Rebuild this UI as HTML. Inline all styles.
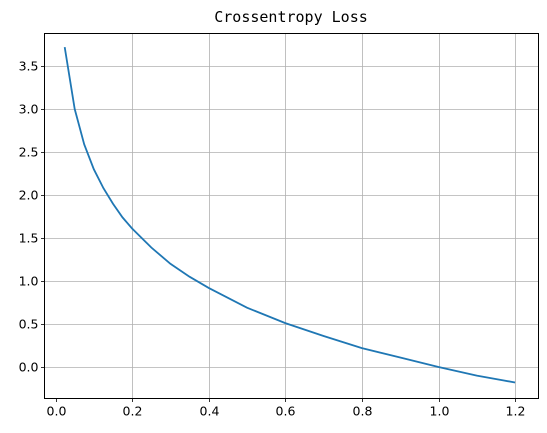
<!DOCTYPE html>
<html><head><meta charset="utf-8"><style>
body{margin:0;background:#fff;}
svg{display:block;}
text{font-family:"DejaVu Sans","Liberation Sans",sans-serif;font-size:12.5px;fill:#000;}
</style></head><body>
<svg id="chart" width="547" height="433">
<text x="291" y="22" text-anchor="middle" style="font-family:'DejaVu Sans Mono','Liberation Mono',monospace;font-size:15px">Crossentropy Loss</text>
<g id="grid"></g><g id="ticks"></g>
<path id="line" fill="none" stroke="#1f77b4" stroke-width="1.8"/>
<rect x="44.5" y="33.5" width="494" height="365" fill="none" stroke="#000" stroke-width="1"/>
</svg>
<script>
const xValues=[0.024,0.05,0.075,0.1,0.125,0.15,0.175,0.2,0.25,0.3,0.35,0.4,0.5,0.6,0.7,0.8,0.9,1.0,1.1,1.2];
const yValues=[3.72,3.00,2.59,2.30,2.08,1.90,1.74,1.61,1.39,1.20,1.05,0.92,0.69,0.51,0.36,0.22,0.11,0.0,-0.10,-0.18];
const xTicks=[0.2,0.4,0.6,0.8,1.0,1.2];
const yTicks=[0.0,0.5,1.0,1.5,2.0,2.5,3.0,3.5];
const xTickLabels=["0.2","0.4","0.6","0.8","1.0","1.2"];
const yTickLabels=["0.0","0.5","1.0","1.5","2.0","2.5","3.0","3.5"];
const L=44.5,R=538.5,T=33.5,B=398.5;
function sx(v){return 55.5+v*383.0;}
function sy(v){return 367-v*86;}
const ns="http://www.w3.org/2000/svg";
const grid=document.getElementById('grid'),ticks=document.getElementById('ticks');
function mk(tag,attrs,parent){const e=document.createElementNS(ns,tag);for(const k in attrs)e.setAttribute(k,attrs[k]);parent.appendChild(e);return e;}
xTicks.forEach((v,i)=>{const x=Math.round(sx(v))+0.5;
 const g=mk('line',{x1:x,x2:x,y1:T,y2:B,stroke:'#b0b0b0','stroke-width':0.8},grid);
 
 
 const t=mk('line',{x1:x,x2:x,y1:B,y2:B+3.5,stroke:'#000','stroke-width':0.8},ticks);
 
 
 const l=mk('text',{x:x,y:B+17,'text-anchor':'middle'},ticks);l.textContent=xTickLabels[i];
 
 
});
const x0=Math.round(sx(0))+0.5;
const t0=mk('line',{x1:x0,x2:x0,y1:B,y2:B+3.5,stroke:'#000','stroke-width':0.8},ticks);


const l0=mk('text',{x:x0,y:B+17,'text-anchor':'middle'},ticks);l0.textContent="0.0";


yTicks.forEach((v,i)=>{const y=Math.round(sy(v))+0.5;
 const g=mk('line',{x1:L,x2:R,y1:y,y2:y,stroke:'#b0b0b0','stroke-width':0.8},grid);
 
 
 const t=mk('line',{x1:L-3.5,x2:L,y1:y,y2:y,stroke:'#000','stroke-width':0.8},ticks);
 
 
 const l=mk('text',{x:L-6,y:y+4,'text-anchor':'end'},ticks);l.textContent=yTickLabels[i];
 
 
});
document.getElementById('line').setAttribute('d',xValues.map((v,i)=>(i?'L':'M')+sx(v).toFixed(1)+','+sy(yValues[i]).toFixed(1)).join(''));
</script>
</body></html>
